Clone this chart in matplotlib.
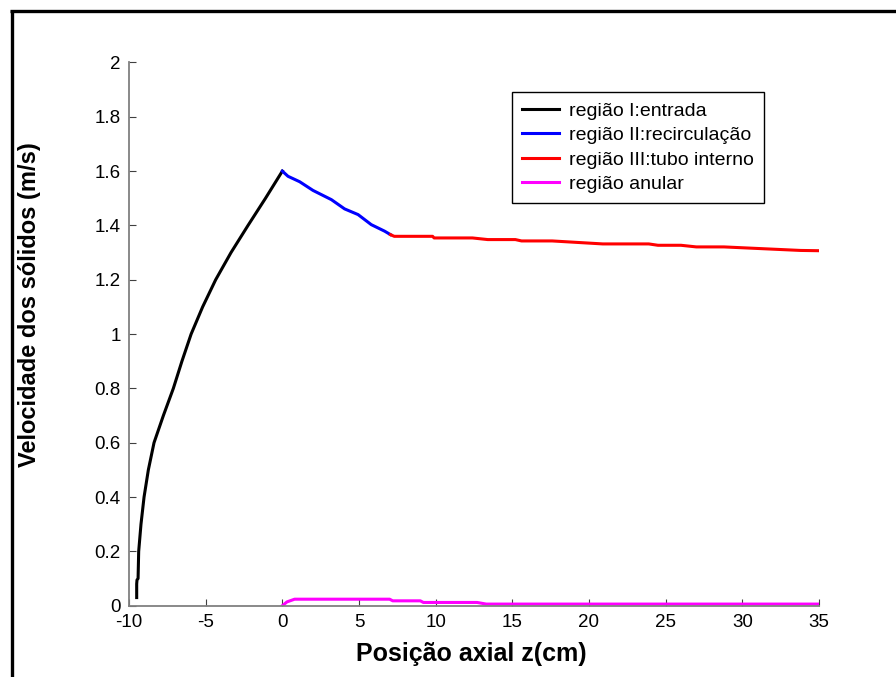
import matplotlib
matplotlib.use("Agg")
import matplotlib.pyplot as plt
from matplotlib.lines import Line2D
from matplotlib.ticker import FuncFormatter

plt.rcParams['font.family'] = ['Liberation Sans', 'DejaVu Sans']
plt.rcParams['axes.unicode_minus'] = False

# Região I: entrada
z_entrada = [-9.5, -9.5, -9.48, -9.41, -9.37, -9.22, -9.02, -8.74, -8.37, -7.76, -7.11,
             -6.55, -5.95, -5.2, -4.35, -3.35, -2.24, -1.1, 0.0]
v_entrada = [0.03, 0.08, 0.095, 0.10, 0.20, 0.30, 0.40, 0.50, 0.60, 0.70, 0.80,
             0.90, 1.00, 1.10, 1.20, 1.30, 1.40, 1.50, 1.60]

# Região II: recirculação
z_recirc = [0.0, 0.37, 1.13, 2.0, 3.2, 4.06, 4.94, 5.8, 6.67, 7.06]
v_recirc = [1.600, 1.581, 1.561, 1.529, 1.495, 1.461, 1.440, 1.403, 1.379, 1.366]

# Região III: tubo interno
z_tubo = [7.06, 7.3, 9.8, 9.9, 12.4, 13.4, 15.2, 15.6, 17.6, 20.9, 23.9, 24.5,
          26.0, 27.0, 28.8, 33.8, 35.0]
v_tubo = [1.366, 1.360, 1.360, 1.354, 1.354, 1.348, 1.348, 1.343, 1.343, 1.332,
          1.332, 1.327, 1.327, 1.321, 1.321, 1.308, 1.307]

# Região anular
z_anular = [0.0, 0.3, 0.8, 7.0, 7.2, 9.0, 9.2, 12.7, 13.3, 35.0]
v_anular = [0.0, 0.014, 0.024, 0.024, 0.018, 0.018, 0.012, 0.012, 0.006, 0.006]

labels = ['região I:entrada', 'região II:recirculação',
          'região III:tubo interno', 'região anular']
colors = ['black', '#0000ff', '#ff0000', '#ff00ff']

fig = plt.figure(figsize=(8.96, 6.77), dpi=100)
ax = fig.add_axes([0.144, 0.1053, 0.770, 0.8024])

series = [(z_entrada, v_entrada), (z_recirc, v_recirc),
          (z_tubo, v_tubo), (z_anular, v_anular)]
for (z, v), lab, c in zip(series, labels, colors):
    ax.plot(z, v, color=c, lw=2.2, label=lab, solid_joinstyle='round')

ax.set_xlim(-10, 35)
ax.set_ylim(0, 2)
ax.set_xticks(range(-10, 36, 5))
ax.set_yticks([0, 0.2, 0.4, 0.6, 0.8, 1.0, 1.2, 1.4, 1.6, 1.8, 2.0])
ax.yaxis.set_major_formatter(FuncFormatter(lambda v, p: ('%g' % round(v, 2))))

for s in ['top', 'right']:
    ax.spines[s].set_visible(False)
for s in ['left', 'bottom']:
    ax.spines[s].set_color('#808080')
    ax.spines[s].set_linewidth(1.3)
ax.tick_params(direction='in', length=5, width=0.8, color='#404040',
               labelsize=13.5, labelcolor='black')
ax.tick_params(axis='y', pad=6)
ax.tick_params(axis='x', pad=6)

ax.set_xlabel('Posição axial z(cm)', fontsize=18, fontweight='bold')
ax.set_ylabel('Velocidade dos sólidos (m/s)', fontsize=17, fontweight='bold')
ax.xaxis.set_label_coords(0.496, -0.066)
ax.yaxis.set_label_coords(-0.1275, 0.554)

leg = ax.legend(loc='upper left', bbox_to_anchor=(0.555, 0.945), fontsize=14,
                frameon=True, fancybox=False, edgecolor='black', framealpha=1,
                handlelength=1.9, handletextpad=0.55, borderpad=0.5,
                labelspacing=0.35, borderaxespad=0)
leg.get_frame().set_linewidth(1.0)

# outer frame (top and left edges)
fig.add_artist(Line2D([10/896, 1.0], [1 - 11/677, 1 - 11/677],
                      transform=fig.transFigure, color='black', lw=2.4,
                      solid_capstyle='butt'))
fig.add_artist(Line2D([11.5/896, 11.5/896], [1 - 9.5/677, 0.0],
                      transform=fig.transFigure, color='black', lw=2.4,
                      solid_capstyle='butt'))

fig.savefig('out.png', dpi=100)
